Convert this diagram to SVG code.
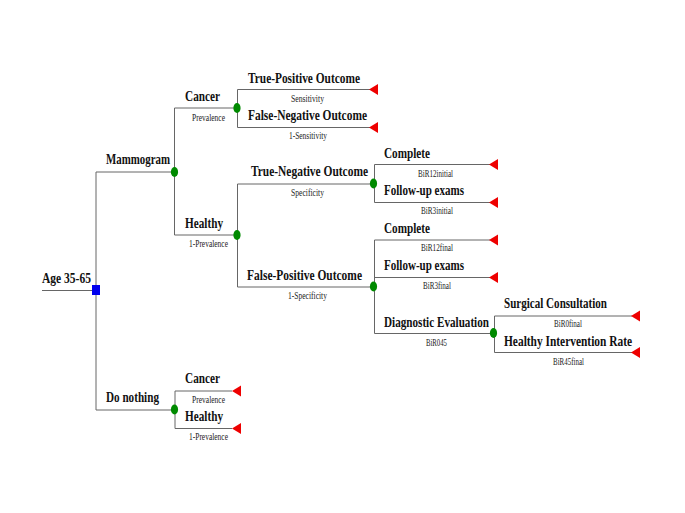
<svg xmlns="http://www.w3.org/2000/svg" width="685" height="513" viewBox="0 0 685 513">
<style>
.ln{stroke:#666;stroke-width:1;fill:none}
.lbl{font-family:"Liberation Serif","Times New Roman",serif;font-weight:bold;font-size:15px;fill:#111}
.sub{font-family:"Liberation Serif","Times New Roman",serif;font-size:10px;fill:#222}
.ch{fill:#008a00}
.dec{fill:#0000ee}
.term{fill:#ee0000}
</style>
<defs>
<path id="tri" d="M0,0 L9,-5.5 L9,5.5 Z"/>
</defs>
<rect width="685" height="513" fill="#fff"/>
<g id="connectors">
<line class="ln" x1="42" y1="290.5" x2="92" y2="290.5"/>
<line class="ln" x1="96" y1="172" x2="96" y2="410"/>
<line class="ln" x1="96" y1="172" x2="171" y2="172"/>
<line class="ln" x1="96" y1="410" x2="171" y2="410"/>
<line class="ln" x1="174.5" y1="108" x2="174.5" y2="235"/>
<line class="ln" x1="174.5" y1="108" x2="234" y2="108"/>
<line class="ln" x1="174.5" y1="235" x2="234" y2="235"/>
<line class="ln" x1="237.5" y1="89.5" x2="237.5" y2="127.5"/>
<line class="ln" x1="237.5" y1="89.5" x2="370" y2="89.5"/>
<line class="ln" x1="237.5" y1="127.5" x2="370" y2="127.5"/>
<line class="ln" x1="237.5" y1="184" x2="237.5" y2="287"/>
<line class="ln" x1="237.5" y1="184" x2="370" y2="184"/>
<line class="ln" x1="237.5" y1="287" x2="370" y2="287"/>
<line class="ln" x1="374.5" y1="164.5" x2="374.5" y2="202.5"/>
<line class="ln" x1="374.5" y1="164.5" x2="490" y2="164.5"/>
<line class="ln" x1="374.5" y1="202.5" x2="490" y2="202.5"/>
<line class="ln" x1="374.5" y1="240" x2="374.5" y2="333.5"/>
<line class="ln" x1="374.5" y1="240" x2="490" y2="240"/>
<line class="ln" x1="374.5" y1="277.5" x2="490" y2="277.5"/>
<line class="ln" x1="374.5" y1="333.5" x2="490" y2="333.5"/>
<line class="ln" x1="494.5" y1="316" x2="494.5" y2="352.5"/>
<line class="ln" x1="494.5" y1="316" x2="632" y2="316"/>
<line class="ln" x1="494.5" y1="352.5" x2="632" y2="352.5"/>
<line class="ln" x1="175" y1="391" x2="175" y2="428.5"/>
<line class="ln" x1="175" y1="391" x2="232" y2="391"/>
<line class="ln" x1="175" y1="428.5" x2="232" y2="428.5"/>
</g>
<g id="root">
<rect class="dec" x="92" y="285" width="8" height="10"/>
<text class="lbl" x="42" y="283" textLength="49" lengthAdjust="spacingAndGlyphs">Age 35-65</text>
</g>
<g id="mammogram">
<ellipse class="ch" cx="174.5" cy="172" rx="3.6" ry="5"/>
<text class="lbl" x="106" y="164" textLength="64" lengthAdjust="spacingAndGlyphs">Mammogram</text>
</g>
<g id="do-nothing">
<ellipse class="ch" cx="174.5" cy="409.5" rx="3.6" ry="5"/>
<text class="lbl" x="106" y="402" textLength="53" lengthAdjust="spacingAndGlyphs">Do nothing</text>
</g>
<g id="m-cancer">
<ellipse class="ch" cx="237" cy="108" rx="3.6" ry="5"/>
<text class="lbl" x="185" y="101" textLength="35" lengthAdjust="spacingAndGlyphs">Cancer</text>
<text class="sub" x="192" y="121" textLength="33" lengthAdjust="spacingAndGlyphs">Prevalence</text>
</g>
<g id="m-healthy">
<ellipse class="ch" cx="237" cy="235" rx="3.6" ry="5"/>
<text class="lbl" x="185" y="228" textLength="38" lengthAdjust="spacingAndGlyphs">Healthy</text>
<text class="sub" x="189" y="247" textLength="39" lengthAdjust="spacingAndGlyphs">1-Prevalence</text>
</g>
<g id="true-positive">
<use href="#tri" class="term" x="369" y="89.5"/>
<text class="lbl" x="248" y="83" textLength="112" lengthAdjust="spacingAndGlyphs">True-Positive Outcome</text>
<text class="sub" x="291" y="102" textLength="33" lengthAdjust="spacingAndGlyphs">Sensitivity</text>
</g>
<g id="false-negative">
<use href="#tri" class="term" x="369" y="127.5"/>
<text class="lbl" x="248" y="120" textLength="119" lengthAdjust="spacingAndGlyphs">False-Negative Outcome</text>
<text class="sub" x="289" y="139" textLength="38" lengthAdjust="spacingAndGlyphs">1-Sensitivity</text>
</g>
<g id="true-negative">
<ellipse class="ch" cx="373.5" cy="183.5" rx="3.6" ry="5"/>
<text class="lbl" x="251" y="176" textLength="117" lengthAdjust="spacingAndGlyphs">True-Negative Outcome</text>
<text class="sub" x="291" y="196" textLength="33" lengthAdjust="spacingAndGlyphs">Specificity</text>
</g>
<g id="false-positive">
<ellipse class="ch" cx="373.5" cy="286.5" rx="3.6" ry="5"/>
<text class="lbl" x="247" y="280" textLength="115" lengthAdjust="spacingAndGlyphs">False-Positive Outcome</text>
<text class="sub" x="288" y="299" textLength="39" lengthAdjust="spacingAndGlyphs">1-Specificity</text>
</g>
<g id="tn-complete">
<use href="#tri" class="term" x="489" y="164.5"/>
<text class="lbl" x="384" y="158" textLength="46" lengthAdjust="spacingAndGlyphs">Complete</text>
<text class="sub" x="418" y="177" textLength="35" lengthAdjust="spacingAndGlyphs">BiR12initial</text>
</g>
<g id="tn-followup">
<use href="#tri" class="term" x="489" y="202.5"/>
<text class="lbl" x="384" y="195" textLength="80" lengthAdjust="spacingAndGlyphs">Follow-up exams</text>
<text class="sub" x="421" y="214" textLength="32" lengthAdjust="spacingAndGlyphs">BiR3initial</text>
</g>
<g id="fp-complete">
<use href="#tri" class="term" x="489" y="240"/>
<text class="lbl" x="384" y="233" textLength="46" lengthAdjust="spacingAndGlyphs">Complete</text>
<text class="sub" x="421" y="251" textLength="32" lengthAdjust="spacingAndGlyphs">BiR12final</text>
</g>
<g id="fp-followup">
<use href="#tri" class="term" x="489" y="277.5"/>
<text class="lbl" x="384" y="270" textLength="80" lengthAdjust="spacingAndGlyphs">Follow-up exams</text>
<text class="sub" x="423" y="289" textLength="28" lengthAdjust="spacingAndGlyphs">BiR3final</text>
</g>
<g id="diagnostic-evaluation">
<ellipse class="ch" cx="493.5" cy="333" rx="3.6" ry="5"/>
<text class="lbl" x="384" y="327" textLength="105" lengthAdjust="spacingAndGlyphs">Diagnostic Evaluation</text>
<text class="sub" x="426" y="346" textLength="21" lengthAdjust="spacingAndGlyphs">BiR045</text>
</g>
<g id="surgical-consultation">
<use href="#tri" class="term" x="631" y="316"/>
<text class="lbl" x="504" y="308" textLength="103" lengthAdjust="spacingAndGlyphs">Surgical Consultation</text>
<text class="sub" x="554" y="327" textLength="28" lengthAdjust="spacingAndGlyphs">BiR0final</text>
</g>
<g id="healthy-intervention">
<use href="#tri" class="term" x="631" y="352.5"/>
<text class="lbl" x="504" y="346" textLength="128" lengthAdjust="spacingAndGlyphs">Healthy Intervention Rate</text>
<text class="sub" x="553" y="365" textLength="31" lengthAdjust="spacingAndGlyphs">BiR45final</text>
</g>
<g id="dn-cancer">
<use href="#tri" class="term" x="232" y="391"/>
<text class="lbl" x="185" y="383" textLength="35" lengthAdjust="spacingAndGlyphs">Cancer</text>
<text class="sub" x="192" y="403" textLength="33" lengthAdjust="spacingAndGlyphs">Prevalence</text>
</g>
<g id="dn-healthy">
<use href="#tri" class="term" x="232" y="428.5"/>
<text class="lbl" x="185" y="421" textLength="38" lengthAdjust="spacingAndGlyphs">Healthy</text>
<text class="sub" x="189" y="440" textLength="39" lengthAdjust="spacingAndGlyphs">1-Prevalence</text>
</g>
</svg>
